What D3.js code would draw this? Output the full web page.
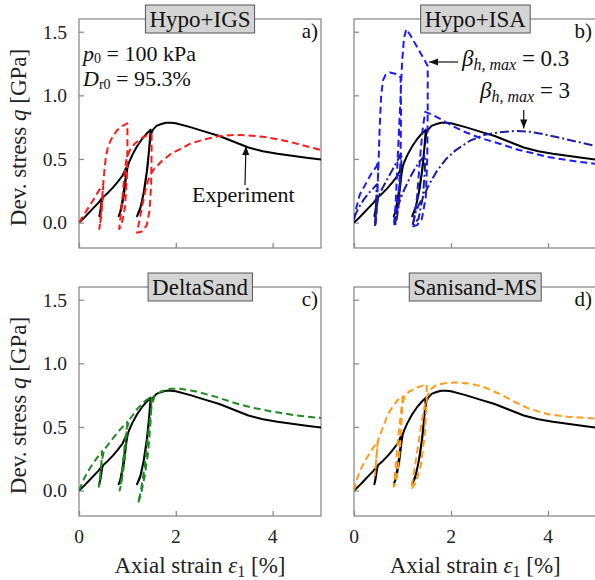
<!DOCTYPE html>
<html><head><meta charset="utf-8">
<script src="https://cdn.jsdelivr.net/npm/d3@7"></script>
<style>body{margin:0;background:#fff;overflow:hidden}</style>
</head><body>
<svg id="c" width="595" height="580"></svg>
<script>
// ---------------- data ----------------
const xTicks = [0, 2, 4];
const yTicks = [0, 0.5, 1.0, 1.5];
const yTickLabels = ["0.0", "0.5", "1.0", "1.5"];
const panelTitles = ["Hypo+IGS", "Hypo+ISA", "DeltaSand", "Sanisand-MS"];
const panelLetters = ["a)", "b)", "c)", "d)"];

// experiment: [axial strain %, q GPa]
const experiment = [
 [0,0],[0.1,0.035],[0.2,0.075],[0.3,0.115],[0.4,0.155],[0.47,0.19],
 [0.46,0.15],[0.44,0.09],[0.42,0.05],
 [0.44,0.08],[0.46,0.13],[0.48,0.18],[0.5,0.2],
 [0.6,0.235],[0.7,0.275],[0.8,0.32],[0.9,0.37],[0.96,0.42],[1.01,0.45],
 [0.98,0.38],[0.93,0.22],[0.87,0.1],[0.82,0.05],
 [0.85,0.08],[0.9,0.18],[0.95,0.32],[0.99,0.42],[1.03,0.47],
 [1.1,0.53],[1.2,0.6],[1.3,0.655],[1.4,0.7],[1.48,0.73],
 [1.46,0.63],[1.42,0.45],[1.36,0.28],[1.28,0.13],[1.2,0.05],
 [1.26,0.1],[1.33,0.22],[1.4,0.4],[1.45,0.58],[1.49,0.7],[1.53,0.73],
 [1.6,0.76],[1.7,0.775],[1.8,0.785],[1.9,0.785],[2.0,0.78],[2.3,0.75],[2.6,0.715],
 [2.9,0.68],[3.2,0.635],[3.5,0.59],[3.8,0.56],[4.1,0.54],[4.4,0.525],[4.7,0.51],[5.0,0.495]
];

const hypoIGS = [
 [0,0],[0.1,0.06],[0.2,0.12],[0.3,0.18],[0.4,0.245],[0.5,0.30],
 [0.49,0.2],[0.46,0.05],[0.43,-0.03],[0.42,-0.05],
 [0.45,0.05],[0.48,0.2],[0.51,0.35],[0.55,0.5],[0.6,0.6],[0.7,0.68],[0.8,0.73],[0.9,0.76],[1.0,0.78],
 [1.0,0.6],[0.99,0.35],[0.95,0.12],[0.88,-0.02],[0.83,-0.05],
 [0.86,0.05],[0.9,0.2],[0.94,0.38],[0.98,0.5],[1.05,0.57],[1.15,0.62],[1.3,0.665],[1.4,0.685],[1.5,0.695],
 [1.5,0.55],[1.49,0.3],[1.46,0.1],[1.4,-0.02],[1.3,-0.07],[1.2,-0.08],
 [1.24,0.0],[1.3,0.12],[1.37,0.25],[1.45,0.36],[1.53,0.41],[1.7,0.48],[1.9,0.54],[2.1,0.58],
 [2.3,0.62],[2.6,0.655],[2.9,0.68],[3.2,0.688],[3.5,0.685],[3.8,0.675],[4.1,0.655],[4.4,0.63],[4.7,0.6],[5.0,0.57]
];

const hypoISA03 = [
 [0,0.02],[0.05,0.12],[0.12,0.22],[0.25,0.31],[0.35,0.38],[0.46,0.44],[0.5,0.48],
 [0.49,0.3],[0.47,0.1],[0.45,0.0],[0.43,-0.03],
 [0.46,0.1],[0.5,0.4],[0.53,0.75],[0.56,1.0],[0.6,1.12],[0.65,1.16],[0.74,1.18],[0.85,1.17],[0.92,1.16],[0.96,1.14],
 [0.97,0.9],[0.96,0.5],[0.92,0.2],[0.87,0.03],[0.82,-0.03],
 [0.86,0.15],[0.9,0.5],[0.95,0.9],[0.99,1.25],[1.03,1.45],[1.08,1.52],[1.15,1.48],[1.3,1.38],[1.45,1.28],[1.52,1.23],
 [1.52,0.9],[1.51,0.5],[1.48,0.2],[1.4,0.03],[1.3,-0.02],[1.22,-0.03],
 [1.3,0.2],[1.36,0.5],[1.42,0.75],[1.47,0.87],[1.6,0.85],[1.8,0.81],[2.0,0.765],[2.3,0.71],
 [2.6,0.665],[3.0,0.62],[3.4,0.57],[3.7,0.545],[4.0,0.515],[4.5,0.485],[5.0,0.46]
];

const hypoISA3 = [
 [0,0.04],[0.1,0.12],[0.2,0.18],[0.3,0.23],[0.4,0.27],[0.47,0.3],
 [0.46,0.2],[0.45,0.05],[0.43,-0.03],
 [0.46,0.1],[0.5,0.2],[0.6,0.28],[0.7,0.35],[0.8,0.42],[0.9,0.49],[0.98,0.55],
 [0.97,0.4],[0.93,0.15],[0.87,0.0],[0.84,-0.03],
 [0.88,0.08],[0.95,0.18],[1.05,0.27],[1.15,0.35],[1.25,0.42],[1.35,0.48],[1.47,0.53],
 [1.46,0.4],[1.42,0.2],[1.33,0.03],[1.2,-0.03],
 [1.27,0.08],[1.35,0.15],[1.45,0.22],[1.55,0.3],[1.7,0.4],[1.9,0.5],[2.1,0.57],[2.4,0.645],
 [2.7,0.69],[3.0,0.71],[3.3,0.72],[3.6,0.715],[3.9,0.695],[4.2,0.67],[4.6,0.635],[5.0,0.6]
];

const deltaSand = [
 [0,0],[0.1,0.09],[0.2,0.16],[0.3,0.22],[0.4,0.27],[0.48,0.31],
 [0.46,0.2],[0.43,0.08],[0.41,0.03],
 [0.44,0.12],[0.48,0.25],[0.52,0.32],[0.7,0.41],[0.85,0.48],[1.0,0.54],
 [0.98,0.42],[0.93,0.2],[0.87,0.05],[0.84,0.0],
 [0.88,0.1],[0.93,0.3],[0.98,0.48],[1.05,0.56],[1.2,0.64],[1.35,0.7],[1.5,0.74],
 [1.48,0.55],[1.43,0.3],[1.35,0.1],[1.28,-0.03],[1.22,-0.1],
 [1.28,0.0],[1.36,0.2],[1.43,0.45],[1.5,0.66],[1.56,0.74],[1.7,0.78],[1.9,0.8],[2.1,0.8],
 [2.4,0.78],[2.8,0.74],[3.2,0.69],[3.6,0.65],[4.0,0.62],[4.5,0.59],[5.0,0.57]
];

const sanisandMS = [
 [0,0],[0.05,0.08],[0.12,0.15],[0.22,0.23],[0.32,0.29],[0.42,0.35],[0.49,0.39],
 [0.47,0.3],[0.45,0.2],[0.43,0.12],
 [0.46,0.25],[0.5,0.4],[0.6,0.5],[0.7,0.6],[0.8,0.66],[0.9,0.71],[1.0,0.74],
 [0.99,0.6],[0.95,0.35],[0.9,0.15],[0.85,0.05],[0.82,0.03],
 [0.86,0.2],[0.92,0.45],[0.98,0.65],[1.05,0.75],[1.15,0.78],[1.3,0.81],[1.5,0.835],
 [1.5,0.7],[1.46,0.45],[1.38,0.2],[1.27,0.06],[1.18,0.01],
 [1.24,0.15],[1.32,0.35],[1.4,0.55],[1.48,0.71],[1.56,0.79],[1.7,0.83],[1.9,0.845],[2.1,0.85],
 [2.4,0.84],[2.7,0.81],[3.0,0.76],[3.3,0.7],[3.6,0.645],[4.0,0.6],[4.4,0.58],[5.0,0.565]
];

// ---------------- drawing ----------------
const FONT = "'Liberation Serif','Times New Roman',serif";
const svg = d3.select("#c").style("font-family", FONT);
const defs = svg.append("defs");
defs.append("marker").attr("id","arr").attr("viewBox","0 0 10 10").attr("refX",10).attr("refY",5)
  .attr("markerWidth",9).attr("markerHeight",9).attr("markerUnits","userSpaceOnUse").attr("orient","auto")
  .append("path").attr("d","M0,1 L10,5 L0,9 Z").attr("fill","#111");

const panels = [
 {x0:79,  x1:321, y0:19,  y1:248, series:[{d:hypoIGS,c:"#ff1a1a",da:"7,4"}], yLab:true,  xLab:false},
 {x0:354, x1:596.5, y0:19, y1:248, series:[{d:hypoISA03,c:"#1a1aff",da:"7,4"},{d:hypoISA3,c:"#1c1ca0",da:"9,3,2,3"}], yLab:false, xLab:false},
 {x0:79,  x1:321, y0:287, y1:516, series:[{d:deltaSand,c:"#1f8a1f",da:"7,4"}], yLab:true,  xLab:true},
 {x0:354, x1:596.5, y0:287, y1:516, series:[{d:sanisandMS,c:"#ff9a1a",da:"7,4"}], yLab:false, xLab:true}
];
const AX = "#8c8c8c";
const LBL = 23;

panels.forEach((p, i) => {
  const x = d3.scaleLinear().domain([0, 5]).range([p.x0, p.x1]);
  const y = d3.scaleLinear().domain([-0.2, 1.6]).range([p.y1, p.y0]);
  p.x = x; p.y = y;
  const g = svg.append("g");
  defs.append("clipPath").attr("id","clip"+i).append("rect")
    .attr("x",p.x0).attr("y",p.y0).attr("width",p.x1-p.x0).attr("height",p.y1-p.y0);

  // frame
  g.append("rect").attr("x",p.x0).attr("y",p.y0).attr("width",p.x1-p.x0).attr("height",p.y1-p.y0)
    .attr("fill","none").attr("stroke",AX).attr("stroke-width",1.3);

  // axes (inward ticks)
  const ya = g.append("g").attr("transform",`translate(${p.x0},0)`)
    .call(d3.axisRight(y).tickValues(yTicks).tickSize(5).tickFormat(""));
  ya.select(".domain").remove();
  ya.selectAll("line").attr("stroke",AX).attr("stroke-width",1.3);
  const xa = g.append("g").attr("transform",`translate(0,${p.y1})`)
    .call(d3.axisTop(x).tickValues(xTicks).tickSize(5).tickFormat(""));
  xa.select(".domain").remove();
  xa.selectAll("line").attr("stroke",AX).attr("stroke-width",1.3);

  if (p.yLab) {
    g.selectAll(".yt").data(yTicks).enter().append("text")
      .attr("x", p.x0 - 12).attr("y", d => y(d)).attr("dy","0.35em")
      .attr("text-anchor","end").attr("font-size",19.5).attr("fill","#222")
      .text((d,k) => yTickLabels[k]);
    const t = g.append("text").attr("transform",`translate(26,${(p.y0+p.y1)/2 + 4}) rotate(-90)`)
      .attr("text-anchor","middle").attr("font-size",LBL).attr("fill","#222");
    t.append("tspan").text("Dev. stress ");
    t.append("tspan").attr("font-style","italic").text("q");
    t.append("tspan").text(" [GPa]");
  }
  if (p.xLab) {
    g.selectAll(".xt").data(xTicks).enter().append("text")
      .attr("x", d => x(d)).attr("y", p.y1 + 27).attr("text-anchor","middle")
      .attr("font-size",19.5).attr("fill","#222").text(d => d);
    const t = g.append("text").attr("x",(p.x0+p.x1)/2).attr("y",p.y1+57)
      .attr("text-anchor","middle").attr("font-size",LBL).attr("fill","#222");
    t.append("tspan").text("Axial strain ");
    t.append("tspan").attr("font-style","italic").text("ε");
    t.append("tspan").attr("font-size",16).attr("dy",4).text("1");
    t.append("tspan").attr("dy",-4).text(" [%]");
  }

  // curves
  const line = d3.line().x(d => x(d[0])).y(d => y(d[1])).curve(d3.curveLinear);
  const cg = g.append("g").attr("clip-path",`url(#clip${i})`);
  cg.append("path").attr("d", line(experiment)).attr("fill","none")
    .attr("stroke","#000").attr("stroke-width",2).attr("stroke-linejoin","round");
  p.series.forEach(s => {
    cg.append("path").attr("d", line(s.d)).attr("fill","none")
      .attr("stroke",s.c).attr("stroke-width",2).attr("stroke-dasharray",s.da).attr("stroke-linejoin","round");
  });

  // panel letter
  g.append("text").attr("x", Math.min(p.x1, 595) - 3).attr("y", p.y0 + 19)
    .attr("text-anchor","end").attr("font-size",21).attr("fill","#111").text(panelLetters[i]);

  // title box
  const tb = g.append("g");
  const tt = tb.append("text").attr("x",(p.x0+p.x1)/2).attr("y",p.y0+8)
    .attr("text-anchor","middle").attr("font-size",23).attr("fill","#111").text(panelTitles[i]);
  const bb = tt.node().getBBox();
  tb.insert("rect","text").attr("x",bb.x-4).attr("y",p.y0-14).attr("width",bb.width+8).attr("height",28)
    .attr("fill","#d4d4d4").attr("stroke","#555").attr("stroke-width",1);
});

// annotations panel a
{
  const t1 = svg.append("text").attr("x",83).attr("y",61).attr("font-size",22).attr("fill","#111");
  t1.append("tspan").attr("font-style","italic").text("p");
  t1.append("tspan").attr("font-size",14).attr("dy",2).text("0");
  t1.append("tspan").attr("dy",-2).text(" = 100 kPa");
  const t2 = svg.append("text").attr("x",83).attr("y",86).attr("font-size",22).attr("fill","#111");
  t2.append("tspan").attr("font-style","italic").text("D");
  t2.append("tspan").attr("font-size",14).attr("dy",3).text("r0");
  t2.append("tspan").attr("dy",-3).text(" = 95.3%");
  const pa = panels[0];
  svg.append("text").attr("x",192).attr("y",202).attr("font-size",22).attr("fill","#111").text("Experiment");
  svg.append("line").attr("x1",245).attr("y1",185).attr("x2",pa.x(3.45)).attr("y2",pa.y(0.6))
    .attr("stroke","#111").attr("stroke-width",1.2).attr("marker-end","url(#arr)");
}
// annotations panel b
{
  const pb = panels[1];
  const t1 = svg.append("text").attr("x",462).attr("y",66).attr("font-size",LBL).attr("fill","#111");
  t1.append("tspan").attr("font-style","italic").text("β");
  t1.append("tspan").attr("font-style","italic").attr("font-size",16).attr("dy",4).text("h, max");
  t1.append("tspan").attr("dy",-4).text(" = 0.3");
  svg.append("line").attr("x1",458).attr("y1",62).attr("x2",pb.x(1.55)).attr("y2",62)
    .attr("stroke","#111").attr("stroke-width",1.2).attr("marker-end","url(#arr)");
  const t2 = svg.append("text").attr("x",480).attr("y",98).attr("font-size",LBL).attr("fill","#111");
  t2.append("tspan").attr("font-style","italic").text("β");
  t2.append("tspan").attr("font-style","italic").attr("font-size",16).attr("dy",4).text("h, max");
  t2.append("tspan").attr("dy",-4).text(" = 3");
  svg.append("line").attr("x1",pb.x(3.5)).attr("y1",110).attr("x2",pb.x(3.5)).attr("y2",pb.y(0.74))
    .attr("stroke","#111").attr("stroke-width",1.2).attr("marker-end","url(#arr)");
}
</script>
</body></html>
